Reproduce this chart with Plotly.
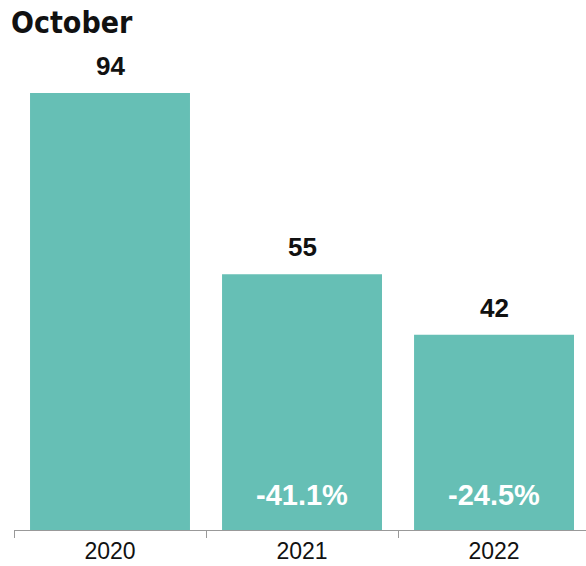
import plotly.graph_objects as go

title_text = "October"
years = ["2020", "2021", "2022"]
values = [94, 55, 42]
changes = ["", "-41.1%", "-24.5%"]

BAR_COLOR = "#66bfb5"
FONT = "Liberation Sans, Arial, sans-serif"

W, H = 586, 566

fig = go.Figure(
    go.Bar(
        x=years,
        y=values,
        marker=dict(color=BAR_COLOR, line=dict(width=0)),
        width=0.833,
        hoverinfo="skip",
    )
)

annotations = []
for i, v in enumerate(values):
    annotations.append(dict(
        x=i, y=v, xref="x", yref="y", text=f"<b>{v}</b>", showarrow=False,
        yanchor="middle", yshift=27,
        font=dict(family=FONT, size=26, color="#111111"),
    ))
for i, c in enumerate(changes):
    if c:
        annotations.append(dict(
            x=i, y=0, xref="x", yref="y", text=f"<b>{c}</b>", showarrow=False,
            yanchor="middle", yshift=35,
            font=dict(family=FONT, size=29, color="white"),
        ))

fig.update_layout(
    width=W, height=H,
    margin=dict(l=14, r=0, t=40, b=36, pad=0),
    paper_bgcolor="white", plot_bgcolor="white",
    showlegend=False,
    title=dict(
        text=f"<b>{title_text}</b>",
        xref="container", yref="container",
        x=11 / W, xanchor="left",
        y=1 - 22 / H, yanchor="middle",
        font=dict(family="DejaVu Sans Condensed, Liberation Sans Narrow, sans-serif",
                  size=30, color="#111111"),
    ),
    xaxis=dict(
        type="category",
        range=[-0.5, 2.479],
        showline=True, linecolor="#999999", linewidth=1,
        ticks="outside", tickson="boundaries", ticklen=7, tickcolor="#999999", tickwidth=1,
        showgrid=False, zeroline=False,
        tickfont=dict(family=FONT, size=23, color="#111111"),
        fixedrange=True,
    ),
    yaxis=dict(
        range=[0, 105.4],
        visible=False, showgrid=False, zeroline=False,
        fixedrange=True,
    ),
    annotations=annotations,
)

fig.write_html(
    "out.html",
    config={"displayModeBar": False, "staticPlot": True},
    post_script="document.body.style.margin='0';document.body.style.overflow='hidden';",
)
